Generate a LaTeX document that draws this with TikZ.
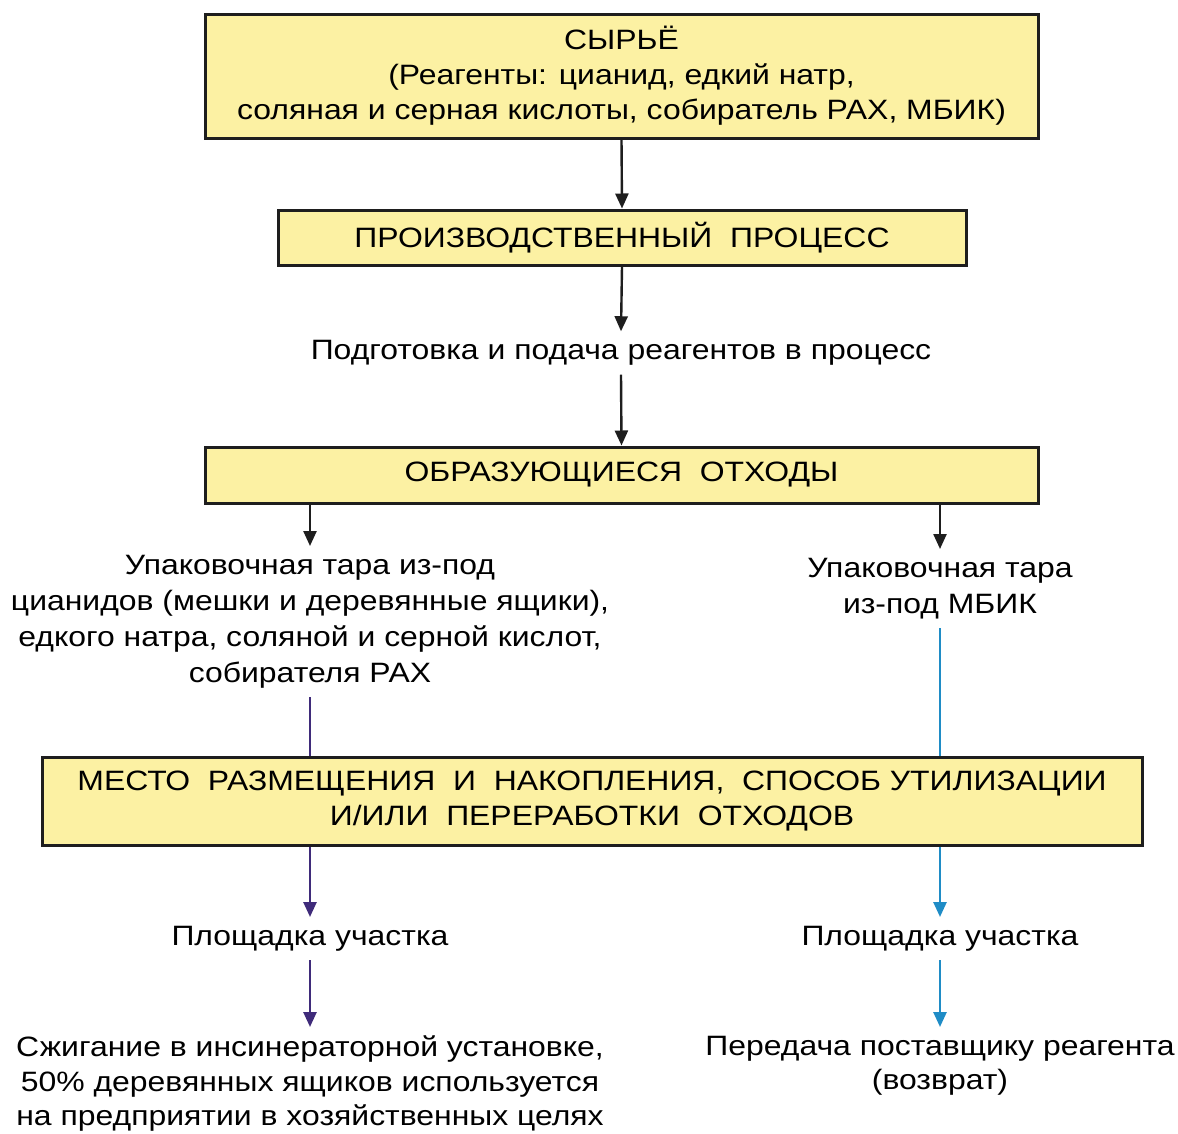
\documentclass[tikz,border=0pt]{standalone}
\usepackage{fontspec}
\setmainfont{Liberation Sans}[FakeStretch=1.14]
\usetikzlibrary{arrows.meta}
\definecolor{boxfill}{HTML}{FCF1A3}
\definecolor{boxline}{HTML}{1E1E1E}
\definecolor{violetline}{HTML}{3F2B7A}
\definecolor{blueline}{HTML}{1F8CC6}
\tikzset{
  x=1pt, y=-1pt,
  box/.style={draw=boxline, line width=3pt, fill=boxfill, align=center,
    inner sep=0pt, font=\fontsize{28}{35}\selectfont},
  label/.style={align=center, inner xsep=0pt, inner ysep=9pt,
    font=\fontsize{28}{36}\selectfont},
  flow/.style={line width=2.4pt, draw=boxline,
    -{Triangle[length=15pt,width=13pt]}},
  vflow/.style={line width=2.6pt, draw=violetline,
    -{Triangle[length=15pt,width=13pt]}},
  bflow/.style={line width=2.6pt, draw=blueline,
    -{Triangle[length=15pt,width=13pt]}},
}
\begin{document}
\begin{tikzpicture}
\useasboundingbox[fill=white] (0,0) rectangle (1178,1133);

% main boxes
\node[box, minimum width=833pt, minimum height=124pt] (raw) at (621.5,76)
  {СЫРЬЁ\\(Реагенты: цианид, едкий натр,\\соляная и серная кислоты, собиратель РАХ, МБИК)};
\node[box, minimum width=688pt, minimum height=55pt] (proc) at (622,237.5)
  {ПРОИЗВОДСТВЕННЫЙ\ \ ПРОЦЕСС};
\node[label] (prep) at (621,353) {Подготовка и подача реагентов в процесс};
\node[box, minimum width=833pt, minimum height=56pt] (waste) at (621.5,475)
  {ОБРАЗУЮЩИЕСЯ\ \ ОТХОДЫ};

% the two waste streams
\node[label, anchor=north] (packL) at (310,546)
  {Упаковочная тара из-под\\цианидов (мешки и деревянные ящики),\\едкого натра, соляной и серной кислот,\\собирателя РАХ};
\node[label, anchor=north] (packR) at (940,549)
  {Упаковочная тара\\из-под МБИК};

\node[box, minimum width=1100pt, minimum height=88pt] (place) at (592,801)
  {МЕСТО\ \ РАЗМЕЩЕНИЯ\ \ И\ \ НАКОПЛЕНИЯ,\ \ СПОСОБ УТИЛИЗАЦИИ\\И/ИЛИ\ \ ПЕРЕРАБОТКИ\ \ ОТХОДОВ};

\node[label, anchor=north] (siteL) at (310,917) {Площадка участка};
\node[label, anchor=north] (siteR) at (940,917) {Площадка участка};

\node[label, anchor=north, font=\fontsize{28}{34.5}\selectfont] (burn) at (310,1027)
  {Сжигание в инсинераторной установке,\\50\% деревянных ящиков используется\\на предприятии в хозяйственных целях};
\node[label, anchor=north, font=\fontsize{28}{34.5}\selectfont] (back) at (940,1027)
  {Передача поставщику реагента\\(возврат)};

% connectors
\draw[flow] (raw.south) -- (proc.north);
\draw[flow] (proc.south) -- (prep.north);
\draw[flow] (prep.south) -- (waste.north);
\draw[flow] (waste.south -| packL.north) -- (packL.north);
\draw[flow] (waste.south -| packR.north) -- (packR.north);

\draw[line width=2.6pt, violetline] (packL.south) -- (packL.south |- place.north);
\draw[line width=2.6pt, blueline] (packR.south) -- (packR.south |- place.north);

\draw[vflow] (place.south -| siteL.north) -- (siteL.north);
\draw[vflow] (siteL.south) -- (burn.north);
\draw[bflow] (place.south -| siteR.north) -- (siteR.north);
\draw[bflow] (siteR.south) -- (back.north);
\end{tikzpicture}
\end{document}
